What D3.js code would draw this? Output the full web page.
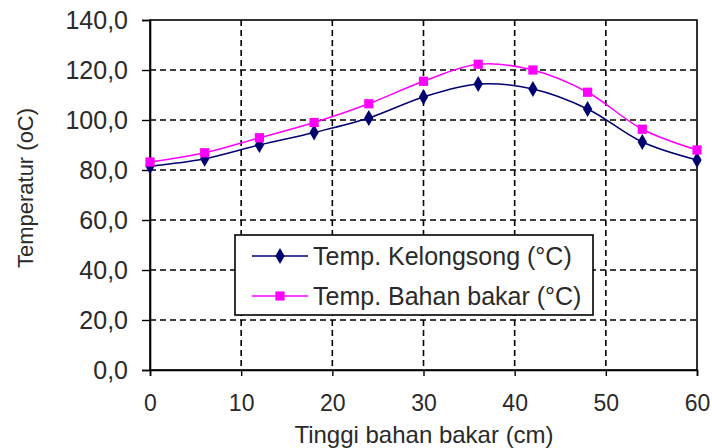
<!DOCTYPE html>
<html><head><meta charset="utf-8">
<script src="https://cdn.jsdelivr.net/npm/d3@7"></script>
<style>body{margin:0;background:#fff}svg{display:block}text{font-family:"Liberation Sans",Arial,sans-serif;fill:#2a2a2a}</style>
</head><body>
<svg id="c" width="712" height="448"></svg>
<script>
const heights = [0, 6, 12, 18, 24, 30, 36, 42, 48, 54, 60];
const tempKelongsong = [81.5, 84.5, 90, 95, 100.8, 109.2, 114.4, 112.4, 104.4, 91.2, 84];
const tempBahanBakar = [83.2, 86.9, 92.9, 99, 106.5, 115.5, 122.3, 120, 111.1, 96.3, 88];
const xTicks = [0, 10, 20, 30, 40, 50, 60];
const yTicks = [0, 20, 40, 60, 80, 100, 120, 140];
const seriesNames = ["Temp. Kelongsong (°C)", "Temp. Bahan bakar (°C)"];
const xTitle = "Tinggi bahan bakar (cm)";
const yTitle = "Temperatur (oC)";

const svg = d3.select("#c");
const L = 150, R = 697, T = 20, B = 370;
const x = d3.scaleLinear().domain([0, 60]).range([L, R]);
const y = d3.scaleLinear().domain([0, 140]).range([B, T]);

// grid
const g = svg.append("g");
g.selectAll(".hg").data(yTicks.filter(v => v > 0 && v < 140)).join("line")
  .attr("x1", L).attr("x2", R).attr("y1", d => y(d)).attr("y2", d => y(d))
  .attr("stroke", "#000").attr("stroke-width", 1.6).attr("stroke-dasharray", "6,4");
g.selectAll(".vg").data(xTicks.filter(v => v > 0 && v < 60)).join("line")
  .attr("y1", T).attr("y2", B).attr("x1", d => x(d)).attr("x2", d => x(d))
  .attr("stroke", "#000").attr("stroke-width", 1.6).attr("stroke-dasharray", "6,4");

// frame
svg.append("rect").attr("x", L).attr("y", T).attr("width", R - L).attr("height", B - T)
  .attr("fill", "none").attr("stroke", "#000").attr("stroke-width", 1.6);

// axes
const yAxis = d3.axisLeft(y).tickValues(yTicks).tickSize(8).tickPadding(14)
  .tickFormat(d => d3.format(".1f")(d).replace(".", ","));
const ya = svg.append("g").attr("transform", `translate(${L},0)`).call(yAxis);
const xAxis = d3.axisBottom(x).tickValues(xTicks).tickSize(6).tickPadding(19).tickFormat(d3.format("d"));
const xa = svg.append("g").attr("transform", `translate(0,${B})`).call(xAxis);
[ya, xa].forEach(a => {
  a.select(".domain").attr("stroke", "#000").attr("stroke-width", 1.6);
  a.selectAll(".tick line").attr("stroke", "#000").attr("stroke-width", 1.4);
  a.selectAll("text").attr("font-size", 25).attr("fill", "#2a2a2a")
    .attr("font-family", '"Liberation Sans",Arial,sans-serif');
});
xa.selectAll("text").attr("font-size", 23);

// titles
svg.append("text").attr("x", 424).attr("y", 443).attr("text-anchor", "middle")
  .attr("font-size", 24).text(xTitle);
svg.append("text").attr("transform", `translate(33,188) rotate(-90)`)
  .attr("text-anchor", "middle").attr("font-size", 22).text(yTitle);

// series
const colors = ["#000070", "#ff00ff"];
const data = [tempKelongsong, tempBahanBakar];
const line = d3.line().x((d, i) => x(heights[i])).y(d => y(d)).curve(d3.curveCatmullRom.alpha(0.5));
data.forEach((s, k) => {
  svg.append("path").attr("d", line(s)).attr("fill", "none")
    .attr("stroke", colors[k]).attr("stroke-width", 1.5);
});
const sym = [d3.symbol().type(d3.symbolDiamond).size(75), d3.symbol().type(d3.symbolSquare).size(85)];
data.forEach((s, k) => {
  svg.append("g").selectAll("path").data(s).join("path")
    .attr("transform", (d, i) => `translate(${x(heights[i])},${y(d)})`)
    .attr("d", sym[k]()).attr("fill", colors[k]);
});

// legend
const lg = svg.append("g");
lg.append("rect").attr("x", 235).attr("y", 235).attr("width", 358).attr("height", 80)
  .attr("fill", "#fff").attr("stroke", "#000").attr("stroke-width", 1.6);
seriesNames.forEach((n, k) => {
  const yy = 256 + k * 40;
  lg.append("line").attr("x1", 252).attr("x2", 308).attr("y1", yy).attr("y2", yy)
    .attr("stroke", colors[k]).attr("stroke-width", 1.5);
  lg.append("path").attr("transform", `translate(280,${yy})`).attr("d", sym[k]()).attr("fill", colors[k]);
  lg.append("text").attr("x", 313).attr("y", yy + 9).attr("font-size", 25).text(n);
});
</script>
</body></html>
